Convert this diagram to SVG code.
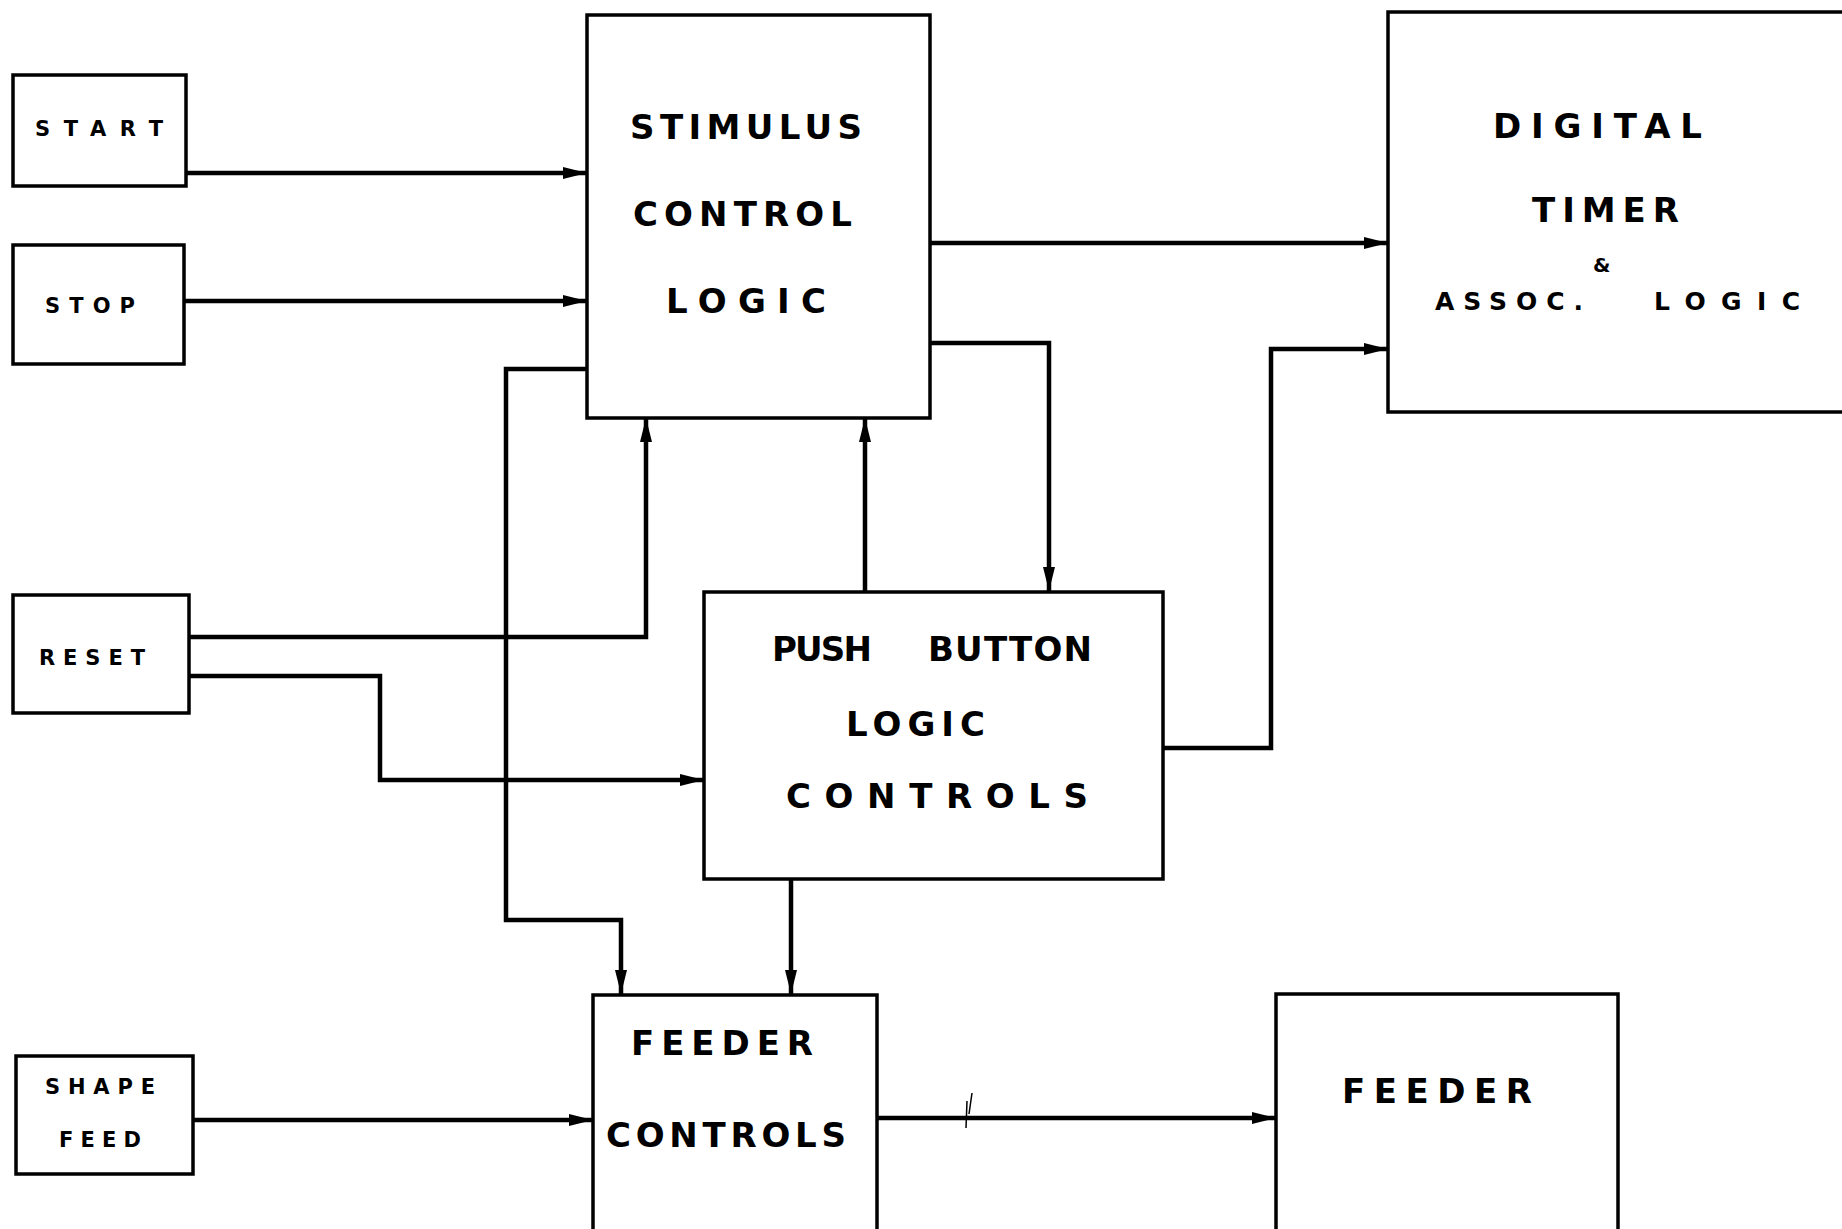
<svg xmlns="http://www.w3.org/2000/svg" width="1842" height="1229" viewBox="0 0 1842 1229">
<style>
.box{fill:#fff;stroke:#000;stroke-width:3.5}
.wire{fill:none;stroke:#000;stroke-width:4.5;stroke-linejoin:miter}
.t{font-family:"DejaVu Sans","Liberation Sans",sans-serif;font-weight:bold;fill:#000}
.big{font-size:34px}
.sm{font-size:21px}
</style>
<defs>
<marker id="ah" markerUnits="userSpaceOnUse" markerWidth="26" markerHeight="16" refX="24" refY="8" orient="auto">
<path d="M0,2 L24,8 L0,14 Z" fill="#000"/>
</marker>
</defs>
<rect width="1842" height="1229" fill="#fff"/>

<g id="connectors">
<path class="wire" d="M186,173 H587" marker-end="url(#ah)"/>
<path class="wire" d="M184,301 H587" marker-end="url(#ah)"/>
<path class="wire" d="M930,243 H1388" marker-end="url(#ah)"/>
<path class="wire" d="M930,343 H1049 V591" marker-end="url(#ah)"/>
<path class="wire" d="M1163,748 H1271 V349 H1388" marker-end="url(#ah)"/>
<path class="wire" d="M587,369 H506 V920 H621 V994" marker-end="url(#ah)"/>
<path class="wire" d="M189,637 H646 V418" marker-end="url(#ah)"/>
<path class="wire" d="M189,676 H380 V780 H704" marker-end="url(#ah)"/>
<path class="wire" d="M865,591 V418" marker-end="url(#ah)"/>
<path class="wire" d="M791,879 V994" marker-end="url(#ah)"/>
<path class="wire" d="M193,1120 H593" marker-end="url(#ah)"/>
<path class="wire" d="M877,1118 H1276" marker-end="url(#ah)"/>
<path d="M967,1101 L966,1128 M972,1093 L969,1114" stroke="#000" stroke-width="1.5" fill="none"/>
</g>

<g id="start">
<rect class="box" x="13" y="75" width="173" height="111"/>
<text class="t sm" x="35" y="136" textLength="128" lengthAdjust="spacing">START</text>
</g>
<g id="stop">
<rect class="box" x="13" y="245" width="171" height="119"/>
<text class="t sm" x="45" y="313" textLength="90" lengthAdjust="spacing">STOP</text>
</g>
<g id="reset">
<rect class="box" x="13" y="595" width="176" height="118"/>
<text class="t sm" x="39" y="665" textLength="106" lengthAdjust="spacing">RESET</text>
</g>
<g id="shape-feed">
<rect class="box" x="16" y="1056" width="177" height="118"/>
<text class="t sm" x="45" y="1094" textLength="110" lengthAdjust="spacing">SHAPE</text>
<text class="t sm" x="59" y="1147" textLength="82" lengthAdjust="spacing">FEED</text>
</g>
<g id="stimulus-control-logic">
<rect class="box" x="587" y="15" width="343" height="403"/>
<text class="t big" x="630" y="139" textLength="232" lengthAdjust="spacing">STIMULUS</text>
<text class="t big" x="633" y="226" textLength="219" lengthAdjust="spacing">CONTROL</text>
<text class="t big" x="666" y="313" textLength="160" lengthAdjust="spacing">LOGIC</text>
</g>
<g id="digital-timer">
<rect class="box" x="1388" y="12" width="470" height="400"/>
<text class="t big" x="1493" y="138" textLength="209" lengthAdjust="spacing">DIGITAL</text>
<text class="t big" x="1532" y="222" textLength="147" lengthAdjust="spacing">TIMER</text>
<text class="t" font-size="20" x="1593" y="272">&amp;</text>
<text class="t" font-size="25" x="1435" y="310" textLength="148" lengthAdjust="spacing">ASSOC.</text>
<text class="t" font-size="25" x="1654" y="310" textLength="146" lengthAdjust="spacing">LOGIC</text>
</g>
<g id="push-button-logic-controls">
<rect class="box" x="704" y="592" width="459" height="287"/>
<text class="t big" x="772" y="661" textLength="100" lengthAdjust="spacing">PUSH</text>
<text class="t big" x="928" y="661" textLength="164" lengthAdjust="spacing">BUTTON</text>
<text class="t big" x="846" y="736" textLength="139" lengthAdjust="spacing">LOGIC</text>
<text class="t big" x="786" y="808" textLength="302" lengthAdjust="spacing">CONTROLS</text>
</g>
<g id="feeder-controls">
<rect class="box" x="593" y="995" width="284" height="236"/>
<text class="t big" x="631" y="1055" textLength="182" lengthAdjust="spacing">FEEDER</text>
<text class="t big" x="606" y="1147" textLength="240" lengthAdjust="spacing">CONTROLS</text>
</g>
<g id="feeder">
<rect class="box" x="1276" y="994" width="342" height="237"/>
<text class="t big" x="1342" y="1103" textLength="190" lengthAdjust="spacing">FEEDER</text>
</g>
</svg>
